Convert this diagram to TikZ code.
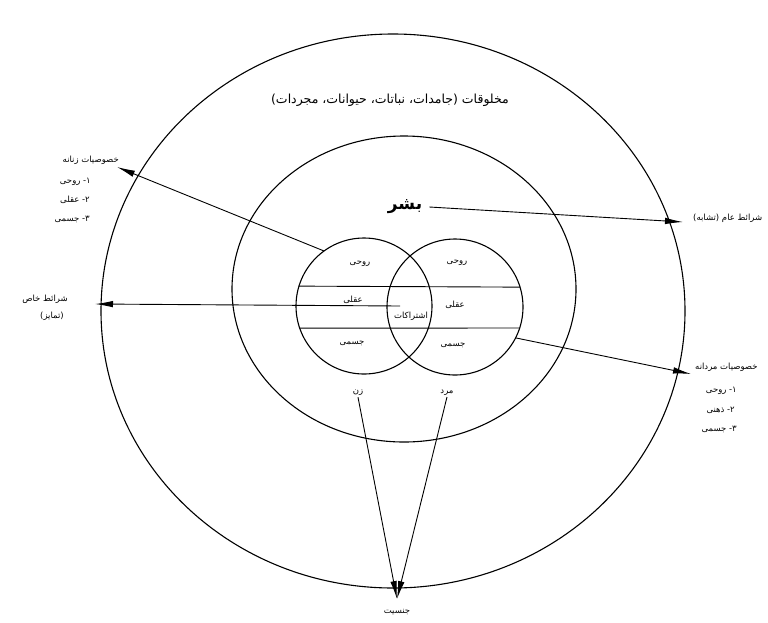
\documentclass[tikz,border=0pt]{standalone}
\usepackage{fontspec}
\usetikzlibrary{arrows.meta,shapes.geometric}
\TeXXeTstate=1
\newfontfamily\arabicfont[Script=Arabic]{DejaVu Sans}
\newcommand{\fa}[1]{\arabicfont\beginR #1\endR}
\begin{document}
\begin{tikzpicture}[x=1pt,y=-1pt,
  lbl/.style={font=\fontsize{8.5}{10}\selectfont, inner sep=1pt},
  ring/.style={draw, line width=1.1pt, inner sep=0pt, outer sep=0pt},
  arr/.style={line width=0.9pt, -{Latex[length=18pt,width=6.5pt]}},
  seg/.style={line width=0.9pt}]
\useasboundingbox (0,0) rectangle (768,622);
\fill[white] (0,0) rectangle (768,622);
% circles
\node[ring, ellipse, minimum width=584pt, minimum height=554pt] (outer) at (393,311) {};
\node[ring, ellipse, minimum width=344pt, minimum height=306pt] (mid) at (404,289) {};
\node[ring, circle, minimum size=136pt] (L) at (364,306) {};
\node[ring, circle, minimum size=136pt] (R) at (455,307) {};
% horizontal bands
\draw[seg] (L.163.8) -- (R.17.1);
\draw[seg] (L.199.8) -- (R.-18.9);
% texts
\node[lbl, font=\fontsize{12.5}{14}\selectfont] (title) at (390,100) {\fa{مخلوقات (جامدات، نباتات، حیوانات، مجردات)}};
\node[lbl, font=\bfseries\fontsize{17}{19}\selectfont] (bashar) at (405,207) {\fa{بشر}};
\node[lbl] (lr) at (360,264) {\fa{روحی}};
\node[lbl] (la) at (353,300) {\fa{عقلی}};
\node[lbl] (lj) at (352,343) {\fa{جسمی}};
\node[lbl] (rr) at (457,263) {\fa{روحی}};
\node[lbl] (ra) at (455,305) {\fa{عقلی}};
\node[lbl] (rj) at (453,345) {\fa{جسمی}};
\node[lbl] (moshtarak) at (411,316) {\fa{اشتراکات}};
\node[lbl] (zan) at (358,393) {\fa{زن}};
\node[lbl] (mard) at (447,393) {\fa{مرد}};
\node[lbl] (jens) at (397,612) {\fa{جنسیت}};
% left upper labels
\node[lbl, anchor=east] (zh) at (120,160) {\fa{خصوصیات زنانه}};
\node[lbl, anchor=east] (z1) at (92,182) {\fa{۱- روحی}};
\node[lbl, anchor=east] (z2) at (91,200) {\fa{۲- عقلی}};
\node[lbl, anchor=east] (z3) at (91,219) {\fa{۳- جسمی}};
% left middle labels
\node[lbl] (kh1) at (45,299) {\fa{شرائط خاص}};
\node[lbl] (kh2) at (52,316) {\fa{(تمایز)}};
% right upper label
\node[lbl, anchor=west] (am) at (692,218) {\fa{شرائط عام (تشابه)}};
% right lower labels
\node[lbl, anchor=west] (mh) at (694,367) {\fa{خصوصیات مردانه}};
\node[lbl, anchor=east] (m1) at (738,391) {\fa{۱- روحی}};
\node[lbl, anchor=east] (m2) at (736,410) {\fa{۲- ذهنی}};
\node[lbl, anchor=east] (m3) at (738,429) {\fa{۳- جسمی}};
% coordinates
\coordinate (tipZ) at (117,167);
\coordinate (tipA) at (683,222);
\coordinate (tipK) at (95,304);
\coordinate (midS) at (400,306);
\coordinate (tipM) at (691,374);
\coordinate (tipJ) at (397,599);
% arrows
\draw[arr] (L.126) -- (tipZ);
\draw[arr] ([xshift=6pt]bashar.east) -- (tipA);
\draw[arr] (midS) -- (tipK);
\draw[arr] (R.-27) -- (tipM);
\draw[arr] (zan.south) -- (tipJ);
\draw[arr] (mard.south) -- (tipJ);
\end{tikzpicture}
\end{document}
